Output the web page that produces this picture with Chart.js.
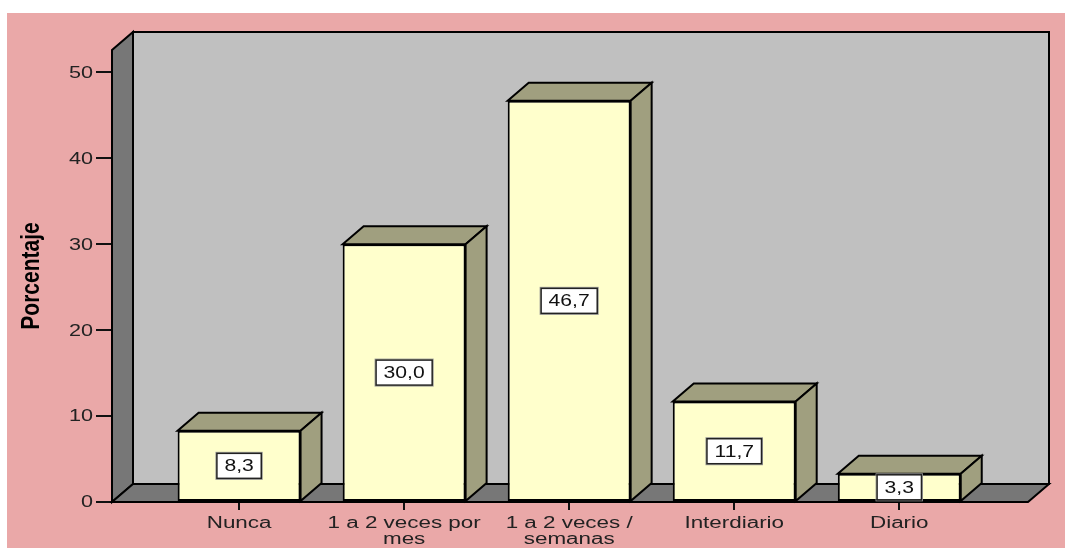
<!DOCTYPE html>
<html>
<head>
<meta charset="utf-8">
<title>Porcentaje</title>
<script src="https://cdn.jsdelivr.net/npm/chart.js@4.4.1/dist/chart.umd.min.js"></script>
<style>
  html, body { margin: 0; padding: 0; background: #fff; }
  #wrap { position: absolute; left: 7px; top: 13px; width: 1058px; height: 535px; background: #EAA8A8; }
  #chart { display: block; }
</style>
</head>
<body>
<div id="wrap"><canvas id="chart" width="1058" height="535"></canvas></div>
<script>
const categories = [['Nunca'], ['1 a 2 veces por', 'mes'], ['1 a 2 veces /', 'semanas'], ['Interdiario'], ['Diario']];
const percentages = [8.3, 30.0, 46.7, 11.7, 3.3];
const yTicks = [0, 10, 20, 30, 40, 50];
const yMax = 52.6;

const FONT = "'Liberation Sans', Arial, sans-serif";
const depth = { dx: 21, dy: 18 };

// text in this chart is drawn a bit wider than the font's natural width
function wideText(ctx, text, x, y, align, sx) {
    ctx.save();
    ctx.translate(x, y);
    ctx.scale(sx, 1);
    ctx.textAlign = align;
    ctx.fillText(text, 0, 0);
    ctx.restore();
}

function poly(ctx, pts, fill) {
    ctx.beginPath();
    ctx.moveTo(pts[0][0], pts[0][1]);
    for (let i = 1; i < pts.length; i++) ctx.lineTo(pts[i][0], pts[i][1]);
    ctx.closePath();
    ctx.fillStyle = fill;
    ctx.fill();
    ctx.stroke();
}

const box3d = {
    id: 'box3d',
    beforeDatasetsDraw(chart) {
        const { ctx, chartArea: a } = chart;
        const { dx, dy } = depth;
        ctx.save();
        ctx.strokeStyle = '#000';
        ctx.lineWidth = 2;
        // back wall
        poly(ctx, [[a.left + dx, a.top - dy], [a.right + dx, a.top - dy], [a.right + dx, a.bottom - dy], [a.left + dx, a.bottom - dy]], '#C0C0C0');
        // side wall
        poly(ctx, [[a.left, a.top], [a.left + dx, a.top - dy], [a.left + dx, a.bottom - dy], [a.left, a.bottom]], '#777777');
        // floor
        poly(ctx, [[a.left, a.bottom], [a.right, a.bottom], [a.right + dx, a.bottom - dy], [a.left + dx, a.bottom - dy]], '#777777');
        ctx.restore();
    },
    afterDatasetsDraw(chart) {
        const { ctx } = chart;
        const { dx, dy } = depth;
        const bars = chart.getDatasetMeta(0).data;
        ctx.save();
        ctx.strokeStyle = '#000';
        ctx.lineWidth = 2;
        bars.forEach(bar => {
            const p = bar.getProps(['x', 'y', 'base', 'width'], true);
            const x0 = p.x - p.width / 2, x1 = p.x + p.width / 2;
            poly(ctx, [[x0, p.y], [x1, p.y], [x1 + dx, p.y - dy], [x0 + dx, p.y - dy]], '#A09F7F');
            poly(ctx, [[x1, p.y], [x1 + dx, p.y - dy], [x1 + dx, p.base - dy], [x1, p.base]], '#A09F7F');
        });
        // value boxes on the front faces
        ctx.font = '16px ' + FONT;
        ctx.textBaseline = 'middle';
        bars.forEach((bar, i) => {
            const p = bar.getProps(['x', 'y', 'base'], true);
            const txt = percentages[i].toFixed(1).replace('.', ',');
            const sx = 1.32;
            const w = ctx.measureText(txt).width * sx + 15;
            const h = 25;
            const cy = (p.y + p.base) / 2;
            ctx.fillStyle = '#fff';
            ctx.fillRect(p.x - w / 2, cy - h / 2, w, h);
            ctx.lineWidth = 1;
            ctx.strokeStyle = '#999';
            ctx.strokeRect(p.x - w / 2 - 1, cy - h / 2 - 1, w + 2, h + 2);
            ctx.lineWidth = 1.5;
            ctx.strokeStyle = '#222';
            ctx.strokeRect(p.x - w / 2, cy - h / 2, w, h);
            ctx.fillStyle = '#111';
            wideText(ctx, txt, p.x, cy + 1, 'center', sx);
        });
        ctx.restore();
    },
    afterDraw(chart) {
        const { ctx, chartArea: a } = chart;
        const xs = chart.scales.x, ys = chart.scales.y;
        ctx.save();
        ctx.fillStyle = '#222';
        ctx.font = '16px ' + FONT;
        ctx.textBaseline = 'middle';
        yTicks.forEach(v => {
            wideText(ctx, String(v), a.left - 19, ys.getPixelForValue(v) + 1, 'right', 1.35);
        });
        ctx.textBaseline = 'alphabetic';
        categories.forEach((lines, i) => {
            const x = xs.getPixelForValue(i);
            lines.forEach((ln, k) => {
                wideText(ctx, ln, x, a.bottom + 26 + k * 16, 'center', 1.4);
            });
        });
        // axis title
        ctx.fillStyle = '#000';
        ctx.font = 'bold 21px ' + FONT;
        ctx.textBaseline = 'middle';
        ctx.translate(25, (a.top + a.bottom) / 2);
        ctx.rotate(-Math.PI / 2);
        ctx.scale(1, 1.2);
        ctx.textAlign = 'center';
        ctx.fillText('Porcentaje', 0, 0);
        ctx.restore();
    }
};

new Chart(document.getElementById('chart'), {
    type: 'bar',
    data: {
        datasets: [{
            label: 'Porcentaje',
            data: percentages.map((v, i) => ({ x: i, y: v })),
            backgroundColor: '#FFFFCC',
            borderColor: '#000',
            borderWidth: 2,
            borderSkipped: false,
            barPercentage: 0.745,
            categoryPercentage: 1
        }]
    },
    options: {
        responsive: false,
        animation: false,
        events: [],
        layout: { padding: { top: 37, right: 37, left: 0, bottom: 0 } },
        plugins: {
            legend: { display: false },
            tooltip: { enabled: false }
        },
        scales: {
            x: {
                type: 'linear',
                min: -0.77,
                max: 4.78,
                offset: false,
                afterBuildTicks: s => { s.ticks = categories.map((c, i) => ({ value: i })); },
                afterFit: s => { s.height = 46; },
                ticks: { color: 'rgba(0,0,0,0)', includeBounds: false },
                grid: { offset: false, drawOnChartArea: false, drawTicks: true, tickLength: 8, color: '#111', lineWidth: 2 },
                border: { display: false }
            },
            y: {
                min: 0,
                max: yMax,
                afterBuildTicks: s => { s.ticks = yTicks.map(v => ({ value: v })); },
                afterFit: s => { s.width = 105; },
                ticks: { color: 'rgba(0,0,0,0)', includeBounds: false },
                grid: { drawOnChartArea: false, drawTicks: true, tickLength: 16, color: '#111', lineWidth: 2 },
                border: { display: false }
            }
        }
    },
    plugins: [box3d]
});
</script>
</body>
</html>
